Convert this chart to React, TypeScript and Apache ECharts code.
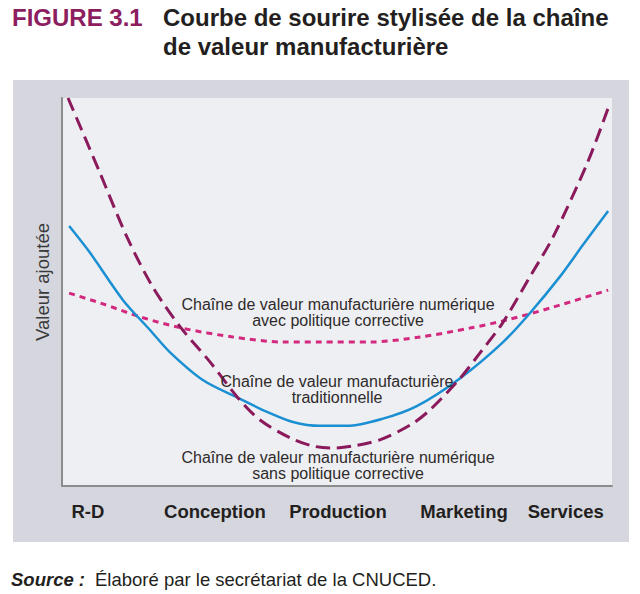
import * as echarts from "echarts";
import React, { useEffect, useRef } from "react";

// value chain stages and where their labels sit on the 0-100 x scale
const stages = ["R-D", "Conception", "Production", "Marketing", "Services"];
const stagePositions = [4.7, 27.8, 50.2, 73.1, 91.6];

// curves, [x, value added]
const traditional = [
  [1.3, 67.0], [5.1, 60.1], [11.1, 47.9], [16.0, 40.2], [19.6, 34.5],
  [25.6, 27.3], [32.0, 22.7], [37.3, 19.1], [42.0, 16.5], [46.9, 15.5],
  [51.8, 15.5], [58.2, 17.3], [64.5, 20.6], [72.4, 27.8], [80.2, 37.1],
  [85.1, 44.6], [90.5, 53.9], [94.7, 62.1], [99.3, 70.9],
];
const withPolicy = [
  [1.3, 49.7], [6.9, 47.2], [14.2, 43.6], [21.8, 40.7], [31.1, 38.4],
  [40.2, 37.1], [46.9, 37.1], [56.0, 37.1], [65.1, 38.4], [74.2, 40.7],
  [80.9, 42.8], [89.3, 46.1], [99.3, 50.5],
];
const withoutPolicy = [
  [1.1, 100], [6.9, 80.7], [11.8, 64.2], [16.5, 51.3], [21.5, 41.0],
  [26.9, 32.0], [32.0, 22.7], [36.0, 17.0], [41.5, 12.4], [45.6, 10.3],
  [49.3, 9.8], [52.9, 10.3], [57.8, 11.9], [63.3, 15.7], [66.9, 19.6],
  [72.4, 27.8], [76.0, 34.3], [80.0, 41.8], [85.1, 54.0], [89.3, 64.2],
  [95.5, 83.2], [99.3, 97.4],
];

const FONT = "'Liberation Sans', Arial, sans-serif";
const TEXT = "#2f2b2b";

const App: React.FC = () => {
  const chartRef = useRef<HTMLDivElement | null>(null);

  useEffect(() => {
    document.body.style.margin = "0";
    const chart = echarts.init(chartRef.current, null, { renderer: "svg" });

    const note = (x: number, y: number, text: string) => ({
      type: "text",
      x,
      y,
      z: 5,
      style: {
        text,
        fill: TEXT,
        font: `16px ${FONT}`,
        lineHeight: 16,
        align: "center",
        verticalAlign: "middle",
      },
    });

    chart.setOption({
      animation: false,
      grid: { left: 62, top: 98, width: 550, height: 388 },
      xAxis: {
        type: "value",
        min: 0,
        max: 100,
        splitLine: { show: false },
        axisTick: { show: false },
        axisLine: { show: true, lineStyle: { color: "#8c8c8c", width: 2 } },
        axisLabel: {
          customValues: stagePositions,
          formatter: (v: number) => stages[stagePositions.indexOf(v)] ?? "",
          fontFamily: FONT,
          fontSize: 18.5,
          fontWeight: "bold",
          color: "#231f20",
          margin: 16,
        },
      },
      yAxis: {
        type: "value",
        min: 0,
        max: 100,
        splitLine: { show: false },
        axisTick: { show: false },
        axisLabel: { show: false },
        axisLine: { show: true, lineStyle: { color: "#8c8c8c", width: 2 } },
      },
      graphic: [
        {
          type: "rect",
          z: -10,
          shape: { x: 13, y: 80, width: 616, height: 462 },
          style: { fill: "#d5d6de" },
        },
        {
          type: "rect",
          z: -9,
          shape: { x: 62, y: 98, width: 550, height: 388 },
          style: { fill: "#eeeff3" },
        },
        {
          type: "text",
          x: 12,
          y: 17,
          style: {
            text: "FIGURE 3.1",
            fill: "#8c1d5f",
            font: `bold 24px ${FONT}`,
            verticalAlign: "middle",
          },
        },
        {
          type: "text",
          x: 163,
          y: 17,
          style: {
            text: "Courbe de sourire stylisée de la chaîne",
            fill: "#231f20",
            font: `bold 24px ${FONT}`,
            verticalAlign: "middle",
          },
        },
        {
          type: "text",
          x: 163,
          y: 46,
          style: {
            text: "de valeur manufacturière",
            fill: "#231f20",
            font: `bold 24px ${FONT}`,
            verticalAlign: "middle",
          },
        },
        {
          type: "text",
          x: 42,
          y: 282,
          rotation: Math.PI / 2,
          style: {
            text: "Valeur ajoutée",
            fill: "#3a3a3a",
            font: `18.5px ${FONT}`,
            align: "center",
            verticalAlign: "middle",
          },
        },
        note(338, 312, "Chaîne de valeur manufacturière numérique\navec politique corrective"),
        note(337, 389, "Chaîne de valeur manufacturière\ntraditionnelle"),
        note(338, 465.5, "Chaîne de valeur manufacturière numérique\nsans politique corrective"),
        {
          type: "text",
          x: 11,
          y: 579,
          style: {
            text: "Source :",
            fill: "#231f20",
            font: `italic bold 18.5px ${FONT}`,
            verticalAlign: "middle",
          },
        },
        {
          type: "text",
          x: 95,
          y: 579,
          style: {
            text: "Élaboré par le secrétariat de la CNUCED.",
            fill: "#231f20",
            font: `18.5px ${FONT}`,
            verticalAlign: "middle",
          },
        },
      ],
      series: [
        {
          name: "Chaîne de valeur manufacturière numérique avec politique corrective",
          type: "line",
          data: withPolicy,
          smooth: 0.3,
          showSymbol: false,
          lineStyle: { color: "#d2297f", width: 3, type: [6, 5] },
        },
        {
          name: "Chaîne de valeur manufacturière traditionnelle",
          type: "line",
          data: traditional,
          smooth: 0.3,
          showSymbol: false,
          lineStyle: { color: "#1a8fd2", width: 2.5 },
        },
        {
          name: "Chaîne de valeur manufacturière numérique sans politique corrective",
          type: "line",
          data: withoutPolicy,
          smooth: 0.3,
          showSymbol: false,
          lineStyle: { color: "#8b1a5d", width: 3, type: [14, 7] },
        },
      ],
    });

    return () => {
      chart.dispose();
    };
  }, []);

  return <div ref={chartRef} style={{ width: "640px", height: "594px" }}></div>;
};

export default App;
